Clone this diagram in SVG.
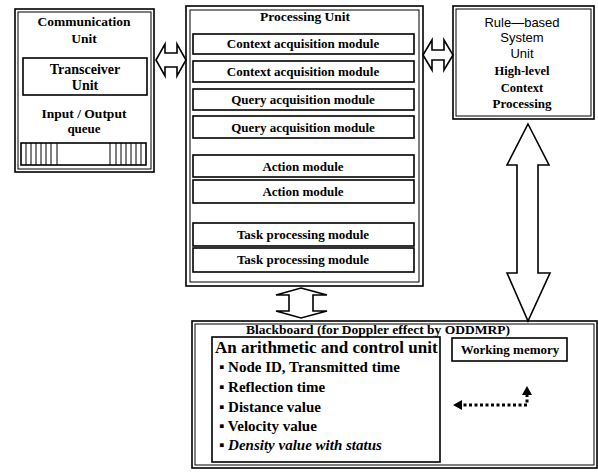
<svg xmlns="http://www.w3.org/2000/svg" width="598" height="472" viewBox="0 0 598 472">
<style>
.b{fill:none;stroke:#000;stroke-width:1.6}
.t{fill:none;stroke:#000;stroke-width:1}
.ar{fill:#fff;stroke:#000;stroke-width:1.6;stroke-linejoin:miter}
text{fill:#000}
.s{font-weight:bold;text-anchor:middle}
.sl{font-weight:bold}
.ss{text-anchor:middle;font-size:13px}
.m{font-size:13px}
.dot{fill:none;stroke:#000;stroke-width:3;stroke-dasharray:3 2.5}
</style>
<rect width="598" height="472" fill="#fff"/>
<g font-family="Liberation Serif, Times New Roman, serif">
<g id="communication-unit">
<rect class="b" x="15" y="9" width="139" height="163"/>
<rect class="t" x="18" y="12" width="133" height="157"/>
<text class="s" x="84" y="26" font-size="13.5">Communication</text>
<text class="s" x="84" y="43" font-size="13.5">Unit</text>
<g id="transceiver-unit">
<rect class="b" x="23" y="58" width="124" height="37"/>
<text class="s" x="85" y="74" font-size="14">Transceiver</text>
<text class="s" x="85" y="90" font-size="14">Unit</text>
</g>
<text class="s" x="84" y="118" font-size="13.5">Input / Output</text>
<text class="s" x="84" y="133" font-size="13">queue</text>
<g id="io-queue">
<rect class="b" x="21" y="143" width="125" height="22"/>
<path class="t" d="M26,143V165M31,143V165M36,143V165M41,143V165M46,143V165M51,143V165M57,143V165M110,143V165M116,143V165M121,143V165M126,143V165M131,143V165M136,143V165M141,143V165"/>
</g>
</g>

<g id="processing-unit">
<rect class="b" x="186" y="6" width="237" height="280"/>
<rect class="t" x="190" y="10" width="229" height="272"/>
<text class="s" x="305" y="21" font-size="13.5">Processing Unit</text>
<g id="m1"><rect class="b" x="193" y="34" width="221" height="20"/><text class="s m" x="303" y="48">Context acquisition module</text></g>
<g id="m2"><rect class="b" x="193" y="61" width="221" height="21"/><text class="s m" x="303" y="76">Context acquisition module</text></g>
<g id="m3"><rect class="b" x="193" y="89" width="221" height="21"/><text class="s m" x="303" y="104">Query acquisition module</text></g>
<g id="m4"><rect class="b" x="193" y="116" width="221" height="22"/><text class="s m" x="303" y="132">Query acquisition module</text></g>
<g id="m5"><rect class="b" x="193" y="155" width="221" height="22"/><text class="s m" x="303" y="171">Action module</text></g>
<g id="m6"><rect class="b" x="193" y="180" width="221" height="23"/><text class="s m" x="303" y="196">Action module</text></g>
<g id="m7"><rect class="b" x="193" y="223" width="221" height="23"/><text class="s m" x="303" y="239">Task processing module</text></g>
<g id="m8"><rect class="b" x="193" y="248" width="221" height="24"/><text class="s m" x="303" y="264">Task processing module</text></g>
</g>

<g id="rule-based-system-unit">
<rect class="b" x="453" y="6" width="141" height="113"/>
<rect class="t" x="456" y="9" width="135" height="107"/>
<text class="ss" x="522" y="27" font-family="Liberation Sans, Arial, sans-serif">Rule—based</text>
<text class="ss" x="522" y="42" font-family="Liberation Sans, Arial, sans-serif">System</text>
<text class="ss" x="522" y="58" font-family="Liberation Sans, Arial, sans-serif">Unit</text>
<text class="s" x="522" y="75" font-size="12.5">High-level</text>
<text class="s" x="522" y="92" font-size="12.5">Context</text>
<text class="s" x="522" y="108" font-size="13">Processing</text>
</g>

<g id="blackboard">
<rect class="b" x="192" y="321" width="405" height="147"/>
<rect class="t" x="195" y="324" width="399" height="141"/>
<text class="s" x="378" y="334" font-size="13.5">Blackboard (for Doppler effect by ODDMRP)</text>
<g id="alu">
<rect class="b" x="212" y="337" width="228" height="125"/>
<text class="sl" x="215" y="353" font-size="17">An arithmetic and control unit</text>
<text class="sl" x="219" y="372" font-size="15">▪ Node ID, Transmitted time</text>
<text class="sl" x="219" y="392" font-size="15">▪ Reflection time</text>
<text class="sl" x="219" y="412" font-size="15">▪ Distance value</text>
<text class="sl" x="219" y="431" font-size="15">▪ Velocity value</text>
<text class="sl" x="219" y="450" font-size="15" font-style="italic">▪ Density value with status</text>
</g>
<g id="working-memory">
<rect class="b" x="452" y="338" width="115" height="23"/>
<text class="s" x="510" y="354" font-size="13">Working memory</text>
</g>
</g>
</g>

<g id="connectors">
<path class="ar" d="M156,60 L165,44 L165,53 L177,53 L177,44 L186,60 L177,76 L177,67 L165,67 L165,76 Z"/>
<path class="ar" d="M423,55 L432,40 L432,50 L444,50 L444,40 L453,55 L444,70 L444,60 L432,60 L432,70 Z"/>
<path class="ar" d="M528,124 L549,165 L538,165 L538,273 L550,273 L528,321 L507,273 L517,273 L517,165 L507,165 Z"/>
<path class="ar" d="M301,288 L327,295 L313,295 L313,311 L327,311 L301,318 L276,311 L289,311 L289,295 L276,295 Z"/>
<path class="dot" d="M527,394 V405 H461"/>
<path d="M527,386 L532,395 L522,395 Z M453,405 L462,400 L462,410 Z" fill="#000"/>
</g>
</svg>
